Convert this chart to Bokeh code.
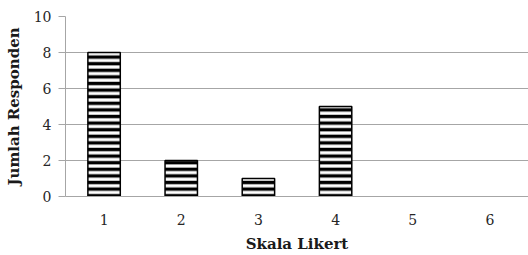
from bokeh.plotting import figure
from bokeh.models import Range1d, FixedTicker, ColumnDataSource
from bokeh.embed import file_html
from bokeh.resources import INLINE

categories = ["1", "2", "3", "4", "5", "6"]
responden = [8, 2, 1, 5, 0, 0]
y_ticks = [0, 2, 4, 6, 8, 10]

src = ColumnDataSource(dict(
    x=categories, top=responden,
    lc=["black" if v > 0 else None for v in responden],
))

p = figure(x_range=categories, y_range=Range1d(0, 10), width=528, height=255,
           output_backend="svg", toolbar_location=None,
           min_border_left=65, min_border_right=0, min_border_top=16, min_border_bottom=58)
p.outline_line_color = None
p.background_fill_color = "white"
p.x_range.range_padding = 0

p.vbar(x="x", top="top", source=src, width=0.42, fill_color="white",
       line_color="lc", line_width=1.5,
       hatch_pattern="horizontal_line", hatch_color="black",
       hatch_weight=3.4, hatch_scale=6.6)

font = "DejaVu Serif"
p.xgrid.grid_line_color = None
p.ygrid.grid_line_color = "#a6a6a6"
p.ygrid.grid_line_width = 1
p.yaxis.ticker = FixedTicker(ticks=y_ticks)
p.yaxis.minor_tick_line_color = None
p.yaxis.major_tick_in = 0
p.yaxis.major_tick_out = 7
p.yaxis.major_tick_line_color = "#a6a6a6"
p.yaxis.axis_line_color = "#a6a6a6"
p.yaxis.major_label_standoff = 7
p.yaxis.axis_label = "Jumlah Responden"
p.yaxis.axis_label_standoff = 8

p.xaxis.axis_line_color = "#a6a6a6"
p.xaxis.major_tick_line_color = None
p.xaxis.major_tick_in = 0
p.xaxis.major_tick_out = 0
p.xaxis.major_label_standoff = 17
p.xaxis.axis_label = "Skala Likert"
p.xaxis.axis_label_standoff = 7

for ax in (p.xaxis[0], p.yaxis[0]):
    ax.major_label_text_font = font
    ax.major_label_text_font_size = "14px"
    ax.major_label_text_color = "#262626"
    ax.axis_label_text_font = font
    ax.axis_label_text_font_size = "15px"
    ax.axis_label_text_font_style = "bold"
    ax.axis_label_text_color = "#1a1a1a"

open("out.html", "w").write(file_html(p, INLINE))
